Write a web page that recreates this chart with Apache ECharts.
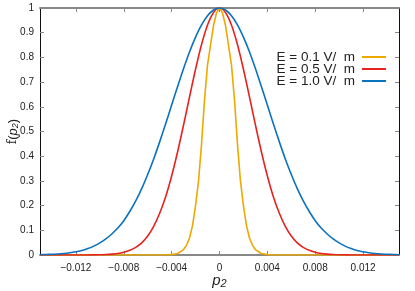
<!DOCTYPE html>
<html>
<head>
<meta charset="utf-8">
<script src="https://cdn.jsdelivr.net/npm/echarts@6/dist/echarts.min.js"></script>
<style>html,body{margin:0;padding:0;background:#fff}#c{width:415px;height:291px}</style>
</head>
<body>
<div id="c"></div>
<script>
// p2 grid for E = 0.5 and E = 1.0 curves
const pGrid = [-0.015,-0.0145,-0.014,-0.0135,-0.013,-0.0125,-0.012,-0.0115,-0.011,-0.0105,-0.01,-0.0095,-0.009,-0.0085,-0.008,-0.0075,-0.007,-0.0065,-0.006,-0.0055,-0.005,-0.0045,-0.004,-0.0035,-0.003,-0.0025,-0.002,-0.0015,-0.001,-0.0005,0,0.0005,0.001,0.0015,0.002,0.0025,0.003,0.0035,0.004,0.0045,0.005,0.0055,0.006,0.0065,0.007,0.0075,0.008,0.0085,0.009,0.0095,0.01,0.0105,0.011,0.0115,0.012,0.0125,0.013,0.0135,0.014,0.0145,0.015];
const fE10 = [0.001,0.002,0.003,0.004,0.006,0.009,0.013,0.018,0.026,0.036,0.049,0.065,0.085,0.109,0.139,0.176,0.219,0.269,0.326,0.389,0.458,0.531,0.607,0.682,0.755,0.823,0.882,0.932,0.969,0.992,1.000,0.992,0.969,0.932,0.882,0.823,0.755,0.682,0.607,0.531,0.458,0.389,0.326,0.269,0.219,0.176,0.139,0.109,0.085,0.065,0.049,0.036,0.026,0.018,0.013,0.009,0.006,0.004,0.003,0.002,0.001];
const fE05 = [0,0,0,0,0,0,0.0001,0.0002,0.0003,0.0006,0.001,0.002,0.0035,0.006,0.011,0.019,0.031,0.049,0.077,0.116,0.169,0.236,0.320,0.418,0.527,0.641,0.752,0.852,0.931,0.982,1.000,0.982,0.931,0.852,0.752,0.641,0.527,0.418,0.320,0.236,0.169,0.116,0.077,0.049,0.031,0.019,0.011,0.006,0.0035,0.002,0.001,0.0006,0.0003,0.0002,0.0001,0,0,0,0,0,0];
// finer grid for E = 0.1 curve
const pGridFine = [-0.015,-0.01,-0.006,-0.005,-0.0045,-0.004,-0.0035,-0.003,-0.00275,-0.0025,-0.00225,-0.002,-0.00175,-0.0015,-0.00125,-0.001,-0.00075,-0.0005,-0.00025,0,0.00025,0.0005,0.00075,0.001,0.00125,0.0015,0.00175,0.002,0.00225,0.0025,0.00275,0.003,0.0035,0.004,0.0045,0.005,0.006,0.01,0.015];
const fE01 = [0,0,0,0,0.0003,0.0015,0.006,0.022,0.04,0.07,0.12,0.20,0.30,0.45,0.63,0.77,0.85,0.93,0.98,1.0,0.98,0.93,0.85,0.77,0.63,0.45,0.30,0.20,0.12,0.07,0.04,0.022,0.006,0.0015,0.0003,0,0,0,0];
const seriesNames = ['E = 0.1 V/  m', 'E = 0.5 V/  m', 'E = 1.0 V/  m'];
const xTicks = [-0.012,-0.008,-0.004,0,0.004,0.008,0.012];

const colors = ['#eda900', '#e6231f', '#0b72bd'];
const font = 'Liberation Sans, Arial, Helvetica, sans-serif';
const fmtX = v => v === 0 ? '0' : (v < 0 ? '\u2212' : '') + Math.abs(v).toFixed(3);

const chart = echarts.init(document.getElementById('c'), null, {renderer: 'canvas'});
const xCommon = {
  type: 'value', min: -0.015, max: 0.015,
  splitLine: {show: false},
};
chart.setOption({
  animation: false,
  color: colors,
  grid: {left: 40, right: 16, top: 8, bottom: 36, containLabel: false, outerBoundsMode: 'none'},
  legend: {
    orient: 'vertical', right: 24, top: 45, align: 'right',
    itemWidth: 24, itemHeight: 2, itemGap: -2,
    icon: 'rect',
    textStyle: {fontFamily: font, fontSize: 13.5, color: '#222', padding: [0, 2, 0, 0]},
    data: seriesNames
  },
  xAxis: [
    Object.assign({}, xCommon, {
      position: 'bottom',
      name: '{p|p}{s|2}', nameLocation: 'middle', nameGap: 17, nameMoveOverlap: false,
      nameTextStyle: {rich: {
        p: {fontFamily: font, fontStyle: 'italic', fontSize: 15, color: '#222'},
        s: {fontFamily: font, fontStyle: 'italic', fontSize: 11, color: '#222', verticalAlign: 'bottom', padding: [6, 0, 0, 0]}
      }},
      axisLine: {onZero: false, lineStyle: {color: '#888', width: 2}},
      axisTick: {inside: true, length: 4, lineStyle: {color: '#888'}, customValues: xTicks},
      axisLabel: {fontFamily: font, fontSize: 10, color: '#222', margin: 8, customValues: xTicks, formatter: fmtX}
    }),
    Object.assign({}, xCommon, {
      position: 'top',
      axisLine: {onZero: false, lineStyle: {color: '#888', width: 2}},
      axisTick: {inside: true, length: 4, lineStyle: {color: '#888'}, customValues: xTicks},
      axisLabel: {show: false}
    })
  ],
  yAxis: [
    {
      type: 'value', min: 0, max: 1, interval: 0.1, position: 'left',
      name: '{f|f}({p|p}{s|2})', nameLocation: 'middle', nameGap: 20, nameRotate: 90, nameMoveOverlap: false,
      nameTextStyle: {fontFamily: font, fontSize: 13, color: '#222', rich: {
        f: {fontFamily: 'DejaVu Serif, serif', fontSize: 12, color: '#222'},
        p: {fontFamily: font, fontStyle: 'italic', fontSize: 13, color: '#222'},
        s: {fontFamily: font, fontStyle: 'italic', fontSize: 9, color: '#222', verticalAlign: 'bottom', padding: [5, 0, 0, 0]}
      }},
      splitLine: {show: false},
      axisLine: {show: true, onZero: false, lineStyle: {color: '#111', width: 1}},
      axisTick: {inside: true, length: 4, lineStyle: {color: '#888'}},
      axisLabel: {fontFamily: font, fontSize: 10, color: '#222', margin: 6}
    },
    {
      type: 'value', min: 0, max: 1, interval: 0.1, position: 'right',
      splitLine: {show: false},
      axisLine: {show: true, onZero: false, lineStyle: {color: '#111', width: 1}},
      axisTick: {inside: true, length: 4, lineStyle: {color: '#888'}},
      axisLabel: {show: false}
    }
  ],
  series: [
    {name: seriesNames[0], type: 'line', showSymbol: false, symbol: 'none', lineStyle: {width: 1.6},
     data: pGridFine.map((p, i) => [p, fE01[i]])},
    {name: seriesNames[1], type: 'line', showSymbol: false, symbol: 'none', smooth: 0.3, lineStyle: {width: 1.6},
     data: pGrid.map((p, i) => [p, fE05[i]])},
    {name: seriesNames[2], type: 'line', showSymbol: false, symbol: 'none', smooth: 0.3, lineStyle: {width: 1.6},
     data: pGrid.map((p, i) => [p, fE10[i]])}
  ]
});
</script>
</body>
</html>
